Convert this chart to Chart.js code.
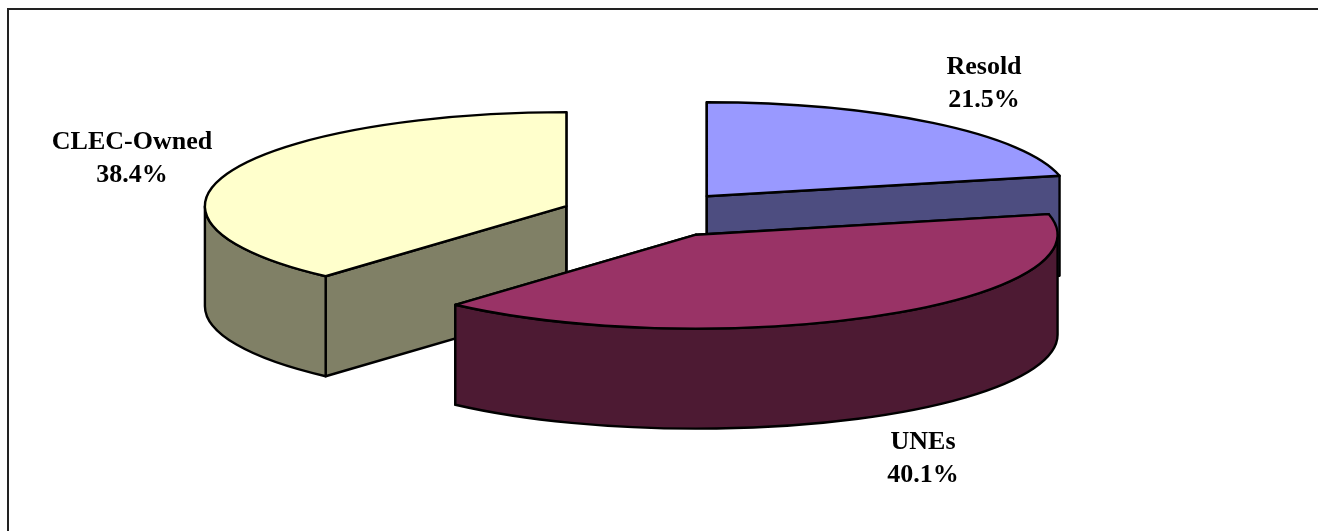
<!DOCTYPE html>
<html>
<head>
<meta charset="utf-8">
<title>Lines by type</title>
<script src="https://cdn.jsdelivr.net/npm/chart.js"></script>
<style>
    html, body { margin: 0; padding: 0; background: #fff; overflow: hidden; }
    #wrap { position: absolute; left: 0; top: 0; width: 1318px; height: 531px; }
    #frame { position: absolute; left: 7px; top: 8px; width: 1320px; height: 540px; border: 2px solid #222; box-sizing: border-box; }
</style>
</head>
<body>
<div id="wrap">
    <div id="frame"></div>
    <canvas id="pieChart" width="1318" height="531"></canvas>
</div>
<script>
const categories = ['Resold', 'UNEs', 'CLEC-Owned'];
const shares = [21.5, 40.1, 38.4];
const topColors = ['#9999ff', '#993366', '#ffffcc'];
const sideColors = ['#4d4d80', '#4d1a33', '#808066'];

// baseline of the first label line, one entry per category
const labelSpots = [[984, 74], [923, 449], [132, 149]];

const SQUASH = 0.26;   // how flat the pie is drawn
const DEPTH = 100;     // height of the slices
const EXPLODE = 90;    // how far each slice is pulled out

// Chart.js works out the slice angles, this only paints them as a tilted 3D pie
const pie3d = {
    id: 'pie3d',
    beforeDatasetDraw(chart, args) {
        const ctx = chart.ctx;
        const arcs = args.meta.data.map((arc, i) => {
            const mid = (arc.startAngle + arc.endAngle) / 2;
            return {
                i: i,
                a0: arc.startAngle,
                a1: arc.endAngle,
                rx: arc.outerRadius,
                ry: arc.outerRadius * SQUASH,
                x: arc.x + Math.cos(mid) * EXPLODE,
                y: arc.y + Math.sin(mid) * EXPLODE * SQUASH
            };
        });
        // back slices first
        arcs.sort((p, q) => p.y - q.y);

        ctx.save();
        ctx.lineWidth = 2.4;
        ctx.lineJoin = 'round';
        ctx.strokeStyle = '#000';
        arcs.forEach(s => {
            ctx.fillStyle = sideColors[s.i];
            // the two cut walls
            [s.a0, s.a1].forEach(a => {
                const ex = s.x + Math.cos(a) * s.rx;
                const ey = s.y + Math.sin(a) * s.ry;
                ctx.beginPath();
                ctx.moveTo(s.x, s.y);
                ctx.lineTo(ex, ey);
                ctx.lineTo(ex, ey + DEPTH);
                ctx.lineTo(s.x, s.y + DEPTH);
                ctx.closePath();
                ctx.fill();
                ctx.stroke();
            });
            // outer rim, only the part facing us
            const from = Math.max(s.a0, 0);
            const to = Math.min(s.a1, Math.PI);
            if (to > from) {
                ctx.beginPath();
                ctx.ellipse(s.x, s.y, s.rx, s.ry, 0, from, to);
                ctx.ellipse(s.x, s.y + DEPTH, s.rx, s.ry, 0, to, from, true);
                ctx.closePath();
                ctx.fill();
                ctx.stroke();
            }
            // top face
            ctx.fillStyle = topColors[s.i];
            ctx.beginPath();
            ctx.moveTo(s.x, s.y);
            ctx.ellipse(s.x, s.y, s.rx, s.ry, 0, s.a0, s.a1);
            ctx.closePath();
            ctx.fill();
            ctx.stroke();
        });
        ctx.restore();
        return false;
    },
    afterDraw(chart) {
        const ctx = chart.ctx;
        ctx.save();
        ctx.fillStyle = '#000';
        ctx.textAlign = 'center';
        ctx.textBaseline = 'alphabetic';
        ctx.font = 'bold 26px "Liberation Serif"';
        categories.forEach((name, i) => {
            ctx.fillText(name, labelSpots[i][0], labelSpots[i][1]);
            ctx.fillText(shares[i].toFixed(1) + '%', labelSpots[i][0], labelSpots[i][1] + 33);
        });
        ctx.restore();
    }
};

new Chart(document.getElementById('pieChart').getContext('2d'), {
    type: 'pie',
    data: {
        labels: categories,
        datasets: [{
            data: shares,
            backgroundColor: topColors,
            borderColor: '#000',
            borderWidth: 2
        }]
    },
    options: {
        responsive: false,
        animation: false,
        radius: 361.5,
        layout: { padding: { left: 0, top: 0, right: 17, bottom: 102 } },
        plugins: {
            legend: { display: false },
            tooltip: { enabled: false }
        }
    },
    plugins: [pie3d]
});
</script>
</body>
</html>
